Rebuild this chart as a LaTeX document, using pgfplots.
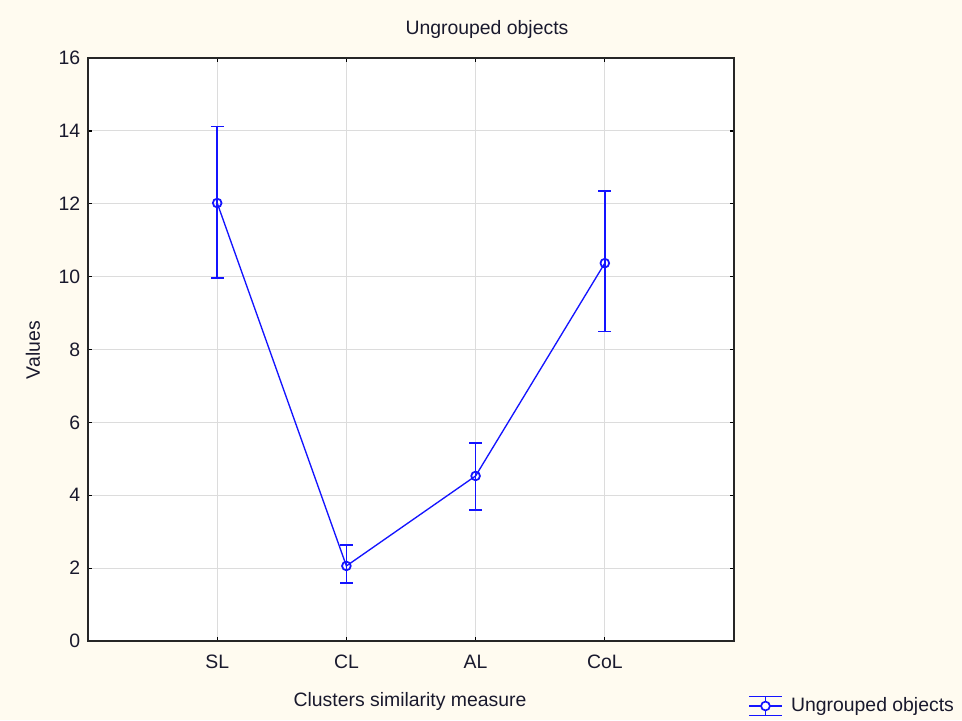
\documentclass[border=0pt]{standalone}
\usepackage{pgfplots}
\pgfplotsset{compat=1.18}
\usepackage{fontspec}
\setmainfont{Liberation Sans}
\definecolor{bgcream}{RGB}{255,251,240}
\definecolor{txt}{RGB}{25,25,45}
\definecolor{gridgray}{RGB}{220,220,220}
\definecolor{serblue}{RGB}{20,20,255}
\newcommand{\lblfont}{\fontsize{13.8}{16}\selectfont}

\pgfplotsset{
  layers/withpage/.define layer set={
    page, axis background, axis grid, axis ticks, axis lines,
    axis tick labels, pre main, main, axis descriptions, axis foreground
  }{},
}

\pgfplotstableread{
x  y      ep    em
0  12.02  2.10  2.06
1  2.06   0.57  0.47
2  4.53   0.90  0.93
3  10.37  1.98  1.87
}\ungrouped

\begin{document}
\begin{tikzpicture}
  \begin{axis}[
    set layers=withpage,
    clip=false,
    scale only axis, width=16.15cm, height=14.575cm,
    axis background/.style={fill=white},
    xmin=-1, xmax=4, ymin=0, ymax=16,
    xtick={0,1,2,3}, xticklabels={SL,CL,AL,CoL},
    ytick={0,2,...,16},
    grid=major, major grid style={gridgray, line width=0.8pt},
    axis line style={black!85, line width=0.9pt},
    tick style={black, line width=0.9pt},
    tick align=inside, major tick length=0.1cm,
    ticklabel style={font=\lblfont, text=txt},
    xticklabel style={yshift=-0.22cm},
    yticklabel style={xshift=-0.07cm},
    /pgf/number format/assume math mode=true,
    title={Ungrouped objects},
    title style={at={(axis description cs:0.6176,1.0515)}, anchor=center, yshift=-0.25cm, font=\lblfont, text=txt},
    xlabel={Clusters similarity measure},
    xlabel style={at={(axis description cs:0.4985,-0.1029)}, anchor=center, yshift=0pt, font=\lblfont, text=txt},
    ylabel={Values},
    ylabel style={at={(axis description cs:-0.0851,0.499)}, anchor=center, rotate=0, font=\lblfont, text=txt},
    legend style={at={(axis description cs:1.0217,-0.1115)}, anchor=west,
      draw=none, fill=none, font=\lblfont, text=txt, inner sep=0pt,
      /tikz/every odd column/.append style={column sep=0.14cm}},
    legend image code/.code={
      \draw[serblue, line width=1.1pt] (0cm,0.24cm) -- (0.82cm,0.24cm);
      \draw[serblue, line width=1.1pt] (0cm,0cm) -- (0.82cm,0cm);
      \draw[serblue, line width=1.1pt] (0cm,-0.24cm) -- (0.82cm,-0.24cm);
      \draw[serblue, line width=1.1pt] (0.41cm,-0.24cm) -- (0.41cm,0.24cm);
      \draw[serblue, line width=1.2pt, fill=white] (0.41cm,0cm) circle (0.11cm);
    },
  ]
    % page background, 962 x 720 px round the 646 x 583 px plot box
    \begin{pgfonlayer}{page}
      \fill[bgcream] (rel axis cs:-0.13622,-0.13551) rectangle (rel axis cs:1.35294,1.09949);
    \end{pgfonlayer}
    \addplot[serblue, line width=0.95pt, mark=o, mark size=3.1pt,
      mark options={fill=white, line width=1.25pt},
      error bars/.cd, y dir=both, y explicit,
      error bar style={serblue, line width=1.1pt},
      error mark options={rotate=90, mark size=0.16cm, serblue, line width=1.1pt}]
      table[x=x, y=y, y error plus=ep, y error minus=em] {\ungrouped};
    \addlegendentry{Ungrouped objects}
  \end{axis}
\end{tikzpicture}
\end{document}
